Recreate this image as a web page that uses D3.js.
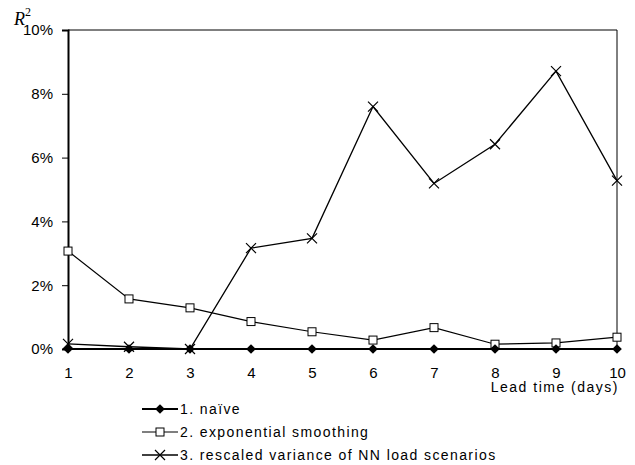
<!DOCTYPE html>
<html>
<head>
<meta charset="utf-8">
<script src="https://cdn.jsdelivr.net/npm/d3@7"></script>
<style>
  body { margin: 0; background: #fff; }
  text { font-family: "Liberation Sans", Arial, sans-serif; fill: #000; }
</style>
</head>
<body>
<div id="chart"></div>
<script>
// lead times on the x axis
var leadTimes = [1, 2, 3, 4, 5, 6, 7, 8, 9, 10];

// R^2 values (%)
var naive = [0, 0, 0, 0, 0, 0, 0, 0, 0, 0];
var expSmoothing = [3.07, 1.57, 1.29, 0.86, 0.54, 0.28, 0.67, 0.15, 0.19, 0.37];
var nnVariance = [0.16, 0.07, 0.0, 3.16, 3.47, 7.6, 5.19, 6.42, 8.71, 5.28];

var yTicks = [0, 2, 4, 6, 8, 10];
var seriesNames = ["1. naïve", "2. exponential smoothing", "3. rescaled variance of NN load scenarios"];

var width = 635;
var height = 465;
// plot area edges
var plotLeft = 68, plotRight = 617, plotTop = 30, plotBottom = 349;

var svg = d3.select("#chart").append("svg")
  .attr("width", width)
  .attr("height", height);

var x = d3.scaleLinear().domain([1, 10]).range([plotLeft, plotRight]);
var y = d3.scaleLinear().domain([0, 10]).range([plotBottom, plotTop]);

// plot frame (top and right edges)
svg.append("path")
  .attr("d", "M" + plotLeft + "," + plotTop + "H" + plotRight + "V" + plotBottom)
  .attr("fill", "none")
  .attr("stroke", "#000")
  .attr("stroke-width", 1);

// y axis
var yAxis = svg.append("g")
  .attr("transform", "translate(" + plotLeft + ",0)")
  .call(d3.axisLeft(y).tickValues(yTicks).tickSize(6).tickPadding(9)
    .tickFormat(function(d) { return d + "%"; }));
yAxis.select(".domain").attr("stroke-width", 2);
yAxis.selectAll("text").style("font-size", "15px");

// x axis
var xAxis = svg.append("g")
  .attr("transform", "translate(0," + plotBottom + ")")
  .call(d3.axisBottom(x).tickValues(leadTimes).tickSize(4).tickPadding(14));
xAxis.select(".domain").attr("stroke-width", 1);
xAxis.selectAll("text").style("font-size", "15px");

// axis titles
svg.append("text")
  .attr("x", plotRight + 2)
  .attr("y", 392)
  .attr("text-anchor", "end")
  .style("font-size", "14px")
  .style("letter-spacing", "1.5px")
  .text("Lead time (days)");

var r2 = svg.append("text")
  .attr("x", 14)
  .attr("y", 25)
  .style("font-family", "'Liberation Serif', 'Times New Roman', serif")
  .style("font-style", "italic")
  .style("font-size", "18px");
r2.append("tspan").text("R");
r2.append("tspan").attr("dy", -9).style("font-size", "12px").style("font-style", "normal").text("2");

var line = d3.line()
  .x(function(d, i) { return x(leadTimes[i]); })
  .y(function(d) { return y(d); });

function drawMarker(g, type, cx, cy) {
  if (type === "diamond") {
    g.append("path")
      .attr("d", d3.symbol().type(d3.symbolDiamond2).size(60)())
      .attr("transform", "translate(" + cx + "," + cy + ")")
      .attr("fill", "#000");
  } else if (type === "square") {
    g.append("rect")
      .attr("x", cx - 4).attr("y", cy - 4)
      .attr("width", 8).attr("height", 8)
      .attr("fill", "#fff")
      .attr("stroke", "#000")
      .attr("stroke-width", 1);
  } else {
    g.append("path")
      .attr("d", "M" + (cx - 5) + "," + (cy - 5) + "L" + (cx + 5) + "," + (cy + 5) +
        "M" + (cx - 5) + "," + (cy + 5) + "L" + (cx + 5) + "," + (cy - 5))
      .attr("stroke", "#000")
      .attr("stroke-width", 1.2);
  }
}

var series = [
  { values: nnVariance, marker: "cross", width: 1.3 },
  { values: expSmoothing, marker: "square", width: 1.2 },
  { values: naive, marker: "diamond", width: 2.2 }
];

series.forEach(function(s) {
  var g = svg.append("g");
  g.append("path")
    .datum(s.values)
    .attr("d", line)
    .attr("fill", "none")
    .attr("stroke", "#000")
    .attr("stroke-width", s.width);
  s.values.forEach(function(v, i) {
    drawMarker(g, s.marker, x(leadTimes[i]), y(v));
  });
});

// legend
var legendMarkers = ["diamond", "square", "cross"];
var legendWidths = [2, 1.2, 1.3];
seriesNames.forEach(function(name, i) {
  var ly = 409 + i * 23;
  var g = svg.append("g");
  g.append("line")
    .attr("x1", 142).attr("x2", 178)
    .attr("y1", ly).attr("y2", ly)
    .attr("stroke", "#000")
    .attr("stroke-width", legendWidths[i]);
  drawMarker(g, legendMarkers[i], 160, ly);
  g.append("text")
    .attr("x", 180)
    .attr("y", ly + 5)
    .style("font-size", "14px")
    .style("letter-spacing", "1.4px")
    .text(name);
});
</script>
</body>
</html>
